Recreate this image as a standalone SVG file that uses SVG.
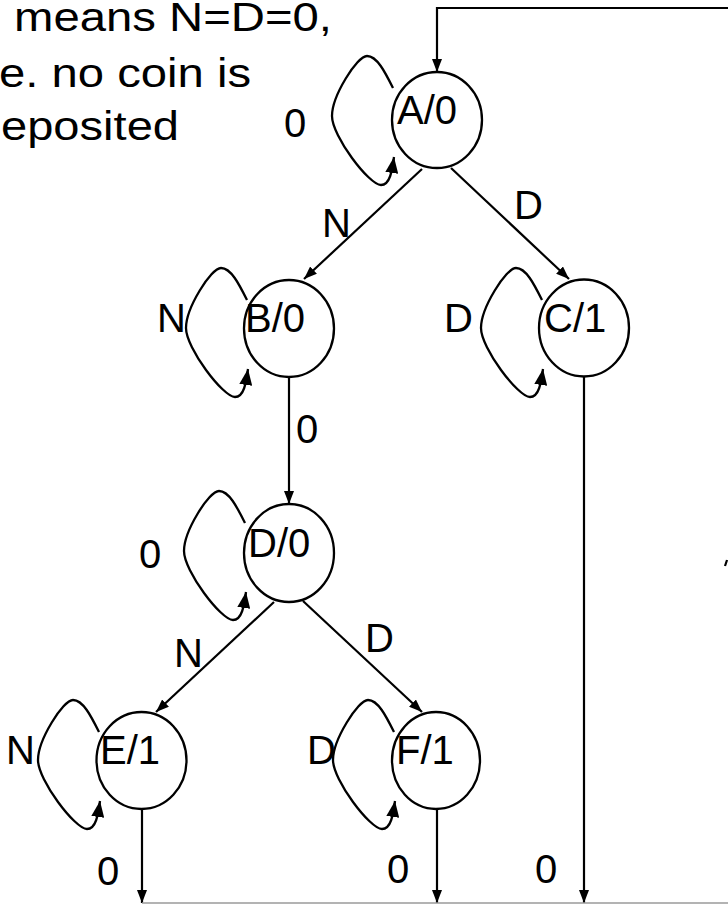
<svg xmlns="http://www.w3.org/2000/svg" width="728" height="904" viewBox="0 0 728 904">
  <style>
    text { font-family: "Liberation Sans", Arial, sans-serif; font-size: 40px; fill: #000; }
    .node ellipse { fill: #fff; stroke: #000; stroke-width: 2.3; }
    .edge { fill: none; stroke: #000; stroke-width: 2.2; }
    .loop { fill: none; stroke: #000; stroke-width: 2.3; marker-end: url(#headLoop); }
    .arrow { marker-end: url(#head); }
    .bus { fill: none; stroke: #9a9a9a; stroke-width: 1.5; }
  </style>
  <defs>
    <marker id="head" markerWidth="13" markerHeight="10" refX="13" refY="5" orient="auto" markerUnits="userSpaceOnUse">
      <path d="M0,0 L13,5 L0,10 z" fill="#000"/>
    </marker>
    <marker id="headLoop" markerWidth="16" markerHeight="13" refX="16" refY="6.5" orient="auto" markerUnits="userSpaceOnUse">
      <path d="M0,0 L16,6.5 L0,13 z" fill="#000"/>
    </marker>
    <!-- self-loop drawn on the left side of a state, relative to its centre -->
    <path id="selfLoop" d="M-42,-28 C-50,-44 -58,-60 -68,-60 C-78,-60 -103,-20 -103,0 C-103,20 -66,69 -54,69 C-45,69 -43,55 -41,41"/>
  </defs>

  <rect width="728" height="904" fill="#fff"/>

  <!-- note text -->
  <g id="note">
    <text x="14" y="31" textLength="318" lengthAdjust="spacingAndGlyphs">means N=D=0,</text>
    <text x="-1" y="87" textLength="252" lengthAdjust="spacingAndGlyphs">e. no coin is</text>
    <text x="1" y="140" textLength="178" lengthAdjust="spacingAndGlyphs">eposited</text>
  </g>

  <!-- connectors -->
  <g id="connectors">
    <path class="edge arrow" d="M728,8 H437 V72"/>
    <path class="edge arrow" d="M422,169 L304,279"/>
    <path class="edge arrow" d="M451,168 L569,279"/>
    <path class="edge arrow" d="M289,377 L289,504"/>
    <path class="edge arrow" d="M274,602 L156,712"/>
    <path class="edge arrow" d="M303,601 L422,712"/>
    <path class="edge arrow" d="M142,809 V903"/>
    <path class="edge arrow" d="M437,809 V903"/>
    <path class="edge arrow" d="M584,377 V903"/>
    <path class="bus" d="M142,903 H728"/>
    <path class="edge" d="M725,566 L727,560" stroke-width="1.5"/>

    <use href="#selfLoop" class="loop" transform="translate(435,116)"/>
    <use href="#selfLoop" class="loop" transform="translate(289,328)"/>
    <use href="#selfLoop" class="loop" transform="translate(584,328)"/>
    <use href="#selfLoop" class="loop" transform="translate(287,551)"/>
    <use href="#selfLoop" class="loop" transform="translate(141,760)"/>
    <use href="#selfLoop" class="loop" transform="translate(436,760)"/>
  </g>

  <!-- connector labels -->
  <g id="labels">
    <text x="284" y="137">0</text>
    <text x="322" y="237">N</text>
    <text x="514" y="219">D</text>
    <text x="157" y="332">N</text>
    <text x="444" y="332">D</text>
    <text x="296" y="443">0</text>
    <text x="139" y="568">0</text>
    <text x="174" y="667">N</text>
    <text x="365" y="652">D</text>
    <text x="6" y="764">N</text>
    <text x="307" y="764">D</text>
    <text x="97" y="885">0</text>
    <text x="387" y="883">0</text>
    <text x="535" y="883">0</text>
  </g>

  <!-- states -->
  <g id="stateA" class="node">
    <ellipse cx="437" cy="120" rx="45" ry="48"/>
    <text x="397" y="124">A/0</text>
  </g>
  <g id="stateB" class="node">
    <ellipse cx="289" cy="328.5" rx="45" ry="48.5"/>
    <text x="245" y="332">B/0</text>
  </g>
  <g id="stateC" class="node">
    <ellipse cx="584" cy="328" rx="45" ry="48.5"/>
    <text x="544" y="332">C/1</text>
  </g>
  <g id="stateD" class="node">
    <ellipse cx="289" cy="553" rx="45" ry="49"/>
    <text x="248" y="557">D/0</text>
  </g>
  <g id="stateE" class="node">
    <ellipse cx="141.5" cy="760.5" rx="45" ry="48.5"/>
    <text x="100" y="764">E/1</text>
  </g>
  <g id="stateF" class="node">
    <ellipse cx="436" cy="760.5" rx="44" ry="48.5"/>
    <text x="396" y="764">F/1</text>
  </g>
</svg>
